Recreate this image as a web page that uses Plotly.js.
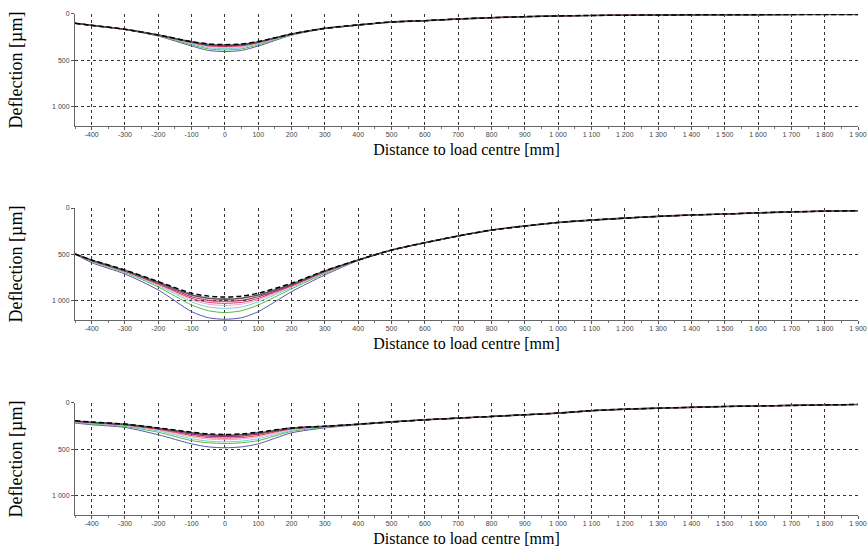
<!DOCTYPE html>
<html>
<head>
<meta charset="utf-8">
<script src="https://cdn.plot.ly/plotly-3.0.1.min.js"></script>
<style>html,body{margin:0;padding:0;background:#fff}#chart{width:868px;height:555px}</style>
</head>
<body>
<div id="chart"></div>
<script>
// Distance to load centre [mm]
const distance = [-450,-400,-300,-200,-100,-50,0,50,100,200,300,400,500,600,700,800,900,1000,1100,1200,1300,1400,1500,1600,1700,1800,1900];

// Panel 1 deflections [µm]
const p1Purple  = [100,122,168,238,345,392,405,392,345,228,158,120,87,72,54,40,29,21,16,13,11,9,8,7,6,5,5];
const p1Green   = [100,122,167,234,332,375,387,375,332,225,157,119,86,72,54,40,29,21,16,13,11,9,8,7,6,5,5];
const p1Cyan    = [100,122,166,232,322,362,373,362,322,222,156,119,86,72,54,40,29,21,16,13,11,9,8,7,6,5,5];
const p1Pink    = [100,122,166,230,314,350,360,350,314,220,155,118,86,72,54,40,29,21,16,13,11,9,8,7,6,5,5];
const p1Red     = [100,122,165,229,308,342,350,342,308,218,155,118,86,72,54,40,29,21,16,13,11,9,8,7,6,5,5];
const p1Magenta = [100,122,165,228,303,335,343,335,303,217,154,118,86,72,54,40,29,21,16,13,11,9,8,7,6,5,5];
const p1Gray    = [100,122,165,227,300,330,337,330,300,216,154,118,86,72,54,40,29,21,16,13,11,9,8,7,6,5,5];
const p1Black   = [100,122,165,226,297,322,330,322,297,215,154,118,86,72,54,40,29,21,16,13,11,9,8,7,6,5,5];

// Panel 2 deflections [µm]
const p2Purple  = [495,588,710,882,1115,1180,1197,1180,1115,900,720,565,455,375,302,238,195,157,131,110,91,76,66,53,43,35,30];
const p2Green   = [495,575,695,850,1043,1105,1125,1105,1043,870,705,562,454,374,302,238,195,157,131,110,91,76,66,53,43,35,30];
const p2Cyan    = [495,570,688,835,1010,1065,1079,1065,1010,855,697,561,453,374,301,238,194,156,130,109,90,75,65,52,42,34,29];
const p2Pink    = [495,566,682,825,988,1035,1048,1035,988,845,692,560,453,374,301,237,194,156,130,109,90,75,65,52,42,34,29];
const p2Red     = [495,565,680,818,972,1015,1025,1015,972,838,688,560,452,373,301,237,194,156,130,109,90,75,65,52,42,34,29];
const p2Magenta = [495,563,676,810,955,993,1003,993,955,830,683,560,452,373,301,237,194,156,130,109,90,75,65,52,42,34,29];
const p2Gray    = [495,561,671,800,935,970,980,970,935,820,678,559,452,373,301,237,194,156,130,109,90,75,65,52,42,34,29];
const p2Black   = [495,559,667,792,917,948,958,948,917,810,674,559,452,373,301,237,194,156,130,109,90,75,65,52,42,34,29];

// Panel 3 deflections [µm]
const p3Purple  = [216,234,263,342,440,472,482,472,440,321,268,235,207,182,164,146,128,110,84,67,56,47,38,32,26,21,16];
const p3Green   = [210,226,253,315,405,428,436,428,405,305,262,232,206,182,164,146,128,110,84,67,56,47,38,32,26,21,16];
const p3Cyan    = [205,220,246,300,385,410,418,410,385,295,258,231,205,181,163,145,127,109,83,67,56,47,38,32,26,21,16];
const p3Pink    = [200,215,240,290,365,388,395,388,365,285,255,230,204,181,163,145,127,109,83,67,56,47,38,32,26,21,16];
const p3Red     = [197,212,236,283,350,372,378,372,350,278,253,229,204,181,163,145,127,109,83,67,56,47,38,32,26,21,16];
const p3Magenta = [195,210,233,277,335,357,362,357,335,273,252,228,203,181,163,145,127,109,83,67,56,47,38,32,26,21,16];
const p3Gray    = [193,207,230,272,322,342,349,342,322,270,251,228,203,181,163,145,127,109,83,67,56,47,38,32,26,21,16];
const p3Black   = [191,205,227,268,314,333,339,333,314,268,250,228,203,181,163,145,127,109,83,67,56,47,38,32,26,21,16];

// Tick labels
const xTickVals = [-400,-300,-200,-100,0,100,200,300,400,500,600,700,800,900,1000,1100,1200,1300,1400,1500,1600,1700,1800,1900];
const xTickText = ["-400","-300","-200","-100","0","100","200","300","400","500","600","700","800","900","1 000","1 100","1 200","1 300","1 400","1 500","1 600","1 700","1 800","1 900"];
const yTickVals = [0,500,1000];
const yTickText = ["0","500","1 000"];

const panels = [
  [p1Purple,p1Green,p1Cyan,p1Pink,p1Red,p1Magenta,p1Gray,p1Black],
  [p2Purple,p2Green,p2Cyan,p2Pink,p2Red,p2Magenta,p2Gray,p2Black],
  [p3Purple,p3Green,p3Cyan,p3Pink,p3Red,p3Magenta,p3Gray,p3Black]
];
const styles = [
  {color:'#5a55b0', width:1},
  {color:'#5cb83a', width:1},
  {color:'#6fd0e0', width:1},
  {color:'#f2a0c8', width:1},
  {color:'#e03a4a', width:1},
  {color:'#b02a80', width:1.2},
  {color:'#555555', width:1.6},
  {color:'#000000', width:1.5, dash:'5px,3px'}
];

const traces = [];
panels.forEach((series, pi) => {
  const sfx = pi === 0 ? '' : String(pi + 1);
  series.forEach((vals, si) => {
    traces.push({
      x: distance, y: vals, type: 'scatter', mode: 'lines',
      line: Object.assign({shape:'spline', smoothing:0.7}, styles[si]),
      xaxis: 'x' + sfx, yaxis: 'y' + sfx, showlegend: false, hoverinfo: 'skip'
    });
  });
});

const tickFont = {family:'Liberation Sans, Arial, sans-serif', size:7, color:'#444'};
const xTitleFont = {family:'Liberation Serif, Times New Roman, serif', size:16, color:'#000'};
const yTitleFont = {family:'Liberation Serif, Times New Roman, serif', size:18, color:'#000'};

function xAxis(anchor) {
  return {
    anchor: anchor, domain:[0,1], range:[-450,1900],
    tickmode:'array', tickvals:xTickVals, ticktext:xTickText,
    ticks:'outside', ticklen:3, tickcolor:'#555', tickfont:tickFont, ticklabelstandoff:-1,
    minor:{tickmode:'linear', tick0:0, dtick:50, ticks:'outside', ticklen:2, tickcolor:'#777', showgrid:false},
    showgrid:true, gridcolor:'#333', griddash:'3px,3px', gridwidth:1,
    showline:true, linecolor:'#666', linewidth:1, zeroline:false,
    title:{text:'Distance to load centre [mm]', font:xTitleFont, standoff:6},
    automargin:false
  };
}
function yAxis(anchor, dom) {
  return {
    anchor: anchor, domain: dom, range:[1205,0],
    tickmode:'array', tickvals:yTickVals, ticktext:yTickText,
    ticks:'outside', ticklen:3, tickcolor:'#555', tickfont:tickFont,
    showgrid:true, gridcolor:'#333', griddash:'3px,3px', gridwidth:1,
    showline:true, linecolor:'#666', linewidth:1, zeroline:false,
    title:{text:'Deflection [µm]', font:yTitleFont, standoff:24},
    automargin:false
  };
}

const layout = {
  width:868, height:555,
  margin:{l:75, r:10, t:0, b:0},
  paper_bgcolor:'#fff', plot_bgcolor:'#fff',
  xaxis: xAxis('y'), yaxis: yAxis('x',[0.7730,0.9748]),
  xaxis2: xAxis('y2'), yaxis2: yAxis('x2',[0.4234,0.6252]),
  xaxis3: xAxis('y3'), yaxis3: yAxis('x3',[0.0721,0.2739]),
  showlegend:false
};

Plotly.newPlot('chart', traces, layout, {displayModeBar:false, staticPlot:true});
</script>
</body>
</html>
